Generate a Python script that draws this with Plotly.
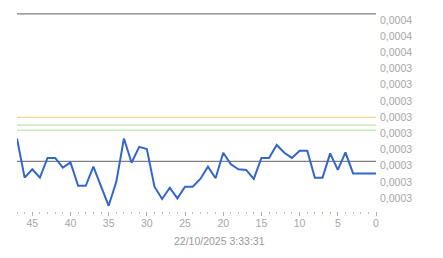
import plotly.graph_objects as go

# x positions (seconds ago), reversed axis
x_vals = list(range(47, -1, -1))
price = [
    0.0003264, 0.0003143, 0.0003169, 0.0003143, 0.0003204, 0.0003204,
    0.0003174, 0.0003190, 0.0003118, 0.0003118, 0.0003177, 0.0003117,
    0.0003056, 0.0003130, 0.0003264, 0.0003189, 0.0003238, 0.0003231,
    0.0003115, 0.0003077, 0.0003112, 0.0003079, 0.0003115, 0.0003115,
    0.0003139, 0.0003177, 0.0003141, 0.0003220, 0.0003184, 0.0003169,
    0.0003167, 0.0003139, 0.0003204, 0.0003204, 0.0003244, 0.0003220,
    0.0003204, 0.0003226, 0.0003226, 0.0003143, 0.0003143, 0.0003218,
    0.0003167, 0.0003221, 0.0003156, 0.0003156, 0.0003156, 0.0003156,
]

# reference levels
ref_levels = [0.0003649, 0.0003329, 0.0003305, 0.0003290, 0.0003193]
ref_colors = ["#7f7f7f", "#f0d98c", "#bfe3b0", "#bfe3b0", "#7f7f7f"]
ref_widths = [1.2, 1.2, 1.2, 1.2, 1.2]

y_tickvals = [0.000363 - 0.000005 * i for i in range(12)]
x_tickvals = [45, 40, 35, 30, 25, 20, 15, 10, 5, 0]
x_title = "22/10/2025 3:33:31"

fig = go.Figure()
for lvl, col, w in zip(ref_levels, ref_colors, ref_widths):
    fig.add_trace(go.Scatter(x=[47, 0], y=[lvl, lvl], mode="lines",
                             line=dict(color=col, width=w), hoverinfo="skip"))
fig.add_trace(go.Scatter(x=x_vals, y=price, mode="lines",
                         line=dict(color="#3366cc", width=2)))

txt = "#a6a6a6"
fig.update_layout(
    width=443, height=258,
    margin=dict(l=17, r=67, t=8, b=47),
    paper_bgcolor="white", plot_bgcolor="white",
    showlegend=False,
    separators=",.",
    font=dict(family="Liberation Sans, Arial, sans-serif", size=10.5, color=txt),
    xaxis=dict(
        range=[47, 0], showgrid=False, zeroline=False, showline=False,
        tickmode="array", tickvals=x_tickvals,
        ticks="outside", ticklen=4, tickwidth=1, tickcolor="#b0b0b0",
        ticklabelstandoff=-2,
        minor=dict(dtick=1, ticks="outside", ticklen=2, tickwidth=1, tickcolor="#c0c0c0", showgrid=False),
        tickfont=dict(size=10.5, color=txt),
    ),
    yaxis=dict(
        range=[0.0003040, 0.0003667], side="right", showgrid=False,
        zeroline=False, showline=False, ticks="",
        ticklabelstandoff=3,
        tickmode="array", tickvals=y_tickvals, tickformat=".4f",
        tickfont=dict(size=10.5, color=txt),
    ),
    annotations=[dict(
        text=x_title, xref="paper", yref="paper",
        x=(219 - 17) / 359, y=-(241 - 211) / 203,
        xanchor="center", yanchor="middle", showarrow=False,
        font=dict(size=10.5, color="#999999"),
    )],
)

fig.write_html("out.html")
